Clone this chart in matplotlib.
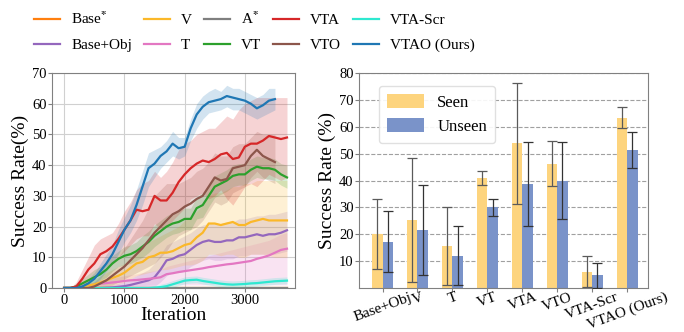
import numpy as np
import matplotlib.pyplot as plt
from matplotlib.lines import Line2D

plt.rcParams['font.family'] = ['Liberation Serif', 'DejaVu Serif']
plt.rcParams['mathtext.fontset'] = 'stix'

# ---- left panel: learning curves, sampled every 100 iterations ----
step = 100

vtao = [0, 0, 0, 0.5, 1.5, 3, 5.5, 8, 11, 15, 19, 22, 27, 33, 39, 40.5, 43, 44.5, 47, 45.5,
        46, 52, 56.5, 59, 60.5, 61, 61.5, 62.5, 62, 61.5, 61, 60, 58.5, 59.5, 61, 61.5]
vtao_hi = [0, 0, 0, 1.5, 3, 5, 8, 11, 14, 19, 23, 27, 32, 38, 44, 45, 46, 48, 51, 49,
           49, 55, 60, 62.5, 64, 65, 64, 66, 65, 65, 64, 63, 62, 63, 65, 65]
vtao_lo = [0, 0, 0, 0, 0.5, 1.5, 3, 5.5, 8, 11, 15, 18, 22, 27, 33, 36, 39, 41, 43, 42,
           43, 48, 52, 55, 57, 57.5, 58, 59, 58, 58, 57, 56, 55, 56, 57, 58]

vta = [0, 0, 0.5, 3, 6, 8, 11, 12, 13.5, 16, 19, 22, 25.5, 25, 25.5, 30, 28.5, 28.5, 31, 34.5,
       37, 39, 40.5, 41.5, 41, 42, 43.5, 44, 42, 42.5, 46, 47, 47, 48, 49.5, 49, 48.5, 49]
vta_hi = [0, 0, 2, 6, 10, 14, 16, 17, 18, 21, 25, 28, 32, 34, 35, 38, 36, 38, 41, 45,
          47, 48, 50, 51, 52, 52, 54, 56, 55, 58, 60, 61, 62, 62, 62, 62, 62, 62]
vta_lo = [0, 0, 0, 0.5, 2, 3, 5, 7, 8, 10, 12, 14, 16, 17, 17, 21, 19, 20, 22, 24,
          26, 29, 30, 31, 29, 30, 32, 29, 27, 30, 33, 34, 33, 35, 37, 36, 35, 36]

vto = [0, 0, 0, 0, 0, 0.5, 1.5, 2.5, 4, 5.5, 7, 9, 11, 13, 15.5, 18, 20, 22, 24, 25,
       26.5, 27.5, 29, 30, 33, 36, 35, 35.5, 39, 39.5, 40, 43, 45, 43, 42, 41]
vto_hi = [0, 0, 0, 0, 0.5, 2, 4, 6, 8, 10, 13, 16, 19, 22, 26, 30, 32, 34, 34, 34,
          35, 36, 38, 39, 41, 44, 43, 43, 46, 47, 47, 49, 51, 50, 50, 50]
vto_lo = [0, 0, 0, 0, 0, 0, 0, 0.5, 1, 2, 3, 4, 5, 6, 7, 8, 10, 12, 15, 17,
          18, 19, 20, 22, 25, 28, 27, 28, 31, 32, 33, 36, 38, 36, 35, 34]

vt = [0, 0, 0.5, 1.5, 2.5, 3.5, 4.5, 6, 8, 9.5, 10.5, 11, 12, 13.5, 15, 17, 18.5, 20, 21, 21.5,
      22.5, 22.5, 26, 27, 30, 33, 34, 35, 36.5, 37, 37, 38.5, 39.5, 39, 39, 38.5, 37, 36]
vt_hi = [0, 0, 1.5, 3, 4.5, 6, 7, 8.5, 10.5, 12, 13.5, 14, 15, 17, 18.5, 20.5, 22, 23.5, 24.5, 25,
         26, 26, 29.5, 31, 33.5, 36.5, 37.5, 38.5, 40, 40.5, 40.5, 42, 43, 42.5, 42.5, 42, 40.5, 40]
vt_lo = [0, 0, 0, 0.5, 1, 1.5, 2.5, 3.5, 5.5, 7, 7.5, 8, 9, 10, 11.5, 13.5, 15, 16.5, 17.5, 18,
         19, 19, 22.5, 23, 26.5, 29.5, 30.5, 31.5, 33, 33.5, 33.5, 35, 36, 35.5, 35.5, 35, 33.5, 32.5]

v = [0, 0, 0, 0.3, 0.8, 1.2, 1.8, 2.5, 3.3, 4, 5, 6.5, 8, 8.5, 10, 10.5, 11.5, 11.5, 12, 13,
     14, 14.5, 16.5, 18, 21, 21, 20.5, 21, 21.5, 20.5, 20.5, 21.5, 22, 22.5, 22, 22, 22, 22]
v_hi = [0, 0, 0.5, 1, 2, 3, 4, 5, 6, 7, 8, 10, 12, 13, 15, 16, 17, 18, 19, 20,
        22, 23, 25, 27, 30, 31, 31, 32, 33, 33, 34, 34, 35, 35, 35, 35, 35, 35]
v_lo = [0, 0, 0, 0, 0, 0, 0, 0.3, 0.8, 1.3, 2, 3, 4, 4.5, 5, 5.5, 6, 6, 6.5, 7,
        7.5, 7.5, 8, 9, 11, 11, 10.5, 11, 11, 10, 10, 11, 11, 11, 10.5, 10, 10, 10]

base_obj = [0, 0, 0, 0, 0, 0, 0, 0.1, 0.2, 0.4, 0.6, 1, 1.5, 2, 2.5, 3.5, 6, 9, 9.5, 10.5,
            11, 12.5, 14, 15, 15.5, 15, 15, 15.5, 15.5, 16.5, 16.5, 17, 17.5, 17, 17.5, 17.5, 18, 18.8]
base_obj_hi = [0, 0, 0, 0, 0, 0, 0, 0.5, 1, 1.5, 2, 3, 4, 5, 6, 8, 11, 14, 15, 16,
               17, 18, 19.5, 20.5, 21, 21, 21, 21.5, 21.5, 22.5, 22.5, 23, 23.5, 23.5, 24, 24, 24.5, 25]
base_obj_lo = [0, 0, 0, 0, 0, 0, 0, 0, 0, 0, 0, 0, 0, 0, 0.2, 0.5, 2, 4, 5, 5,
               5.5, 7, 8, 9, 9.5, 9, 9, 9.5, 9.5, 10.5, 10.5, 11, 11, 11, 11, 11, 11.5, 12]

t = [0, 0, 0.2, 0.5, 0.8, 1.1, 1.4, 1.6, 1.8, 2, 2.3, 2.5, 2.6, 2.8, 3, 3.2, 3.5, 4.5, 4.8, 5.2,
     5.5, 5.8, 6.1, 6.4, 6.8, 7.1, 7.4, 7.7, 7.9, 8.2, 8.5, 8.8, 9.5, 10, 10.6, 11.5, 12.4, 12.8]
t_hi = [0, 0, 0.5, 1, 1.5, 2, 2.5, 3, 3.3, 3.6, 4, 4.3, 4.6, 5, 5.3, 5.6, 6, 7, 7.5, 8,
        8.5, 9, 9.5, 10, 10.5, 11, 11.5, 12, 12.5, 13, 13.5, 14, 14.5, 15, 15.5, 16.5, 17.5, 18]
t_lo = [0, 0, 0, 0, 0, 0.1, 0.2, 0.3, 0.4, 0.5, 0.6, 0.7, 0.8, 0.8, 0.9, 1, 1, 1, 1, 1,
        1, 1, 1, 1, 1, 1, 1, 1, 1, 1, 1, 1, 1, 1, 1, 1, 1, 1]

vta_scr = [0, 0, 0, 0, 0, 0, 0, 0, 0, 0, 0, 0, 0, 0, 0, 0.1, 0.3, 0.6, 1.2, 1.8,
           2.4, 2.6, 2.7, 2.3, 2, 1.7, 1.4, 1.2, 1.1, 1.2, 1.3, 1.5, 1.6, 1.8, 2, 2.2, 2.3, 2.4]
vta_scr_hi = [0, 0, 0, 0, 0, 0, 0, 0, 0, 0, 0, 0, 0, 0, 0.3, 0.8, 1.2, 1.7, 2.4, 3,
              3.6, 3.8, 3.9, 3.5, 3.2, 2.9, 2.6, 2.4, 2.3, 2.4, 2.5, 2.7, 2.8, 3, 3.2, 3.4, 3.5, 3.6]
vta_scr_lo = [0, 0, 0, 0, 0, 0, 0, 0, 0, 0, 0, 0, 0, 0, 0, 0, 0, 0, 0.2, 0.8,
              1.4, 1.6, 1.7, 1.3, 1, 0.7, 0.4, 0.2, 0.1, 0.2, 0.3, 0.5, 0.6, 0.8, 1, 1.2, 1.3, 1.4]

base_star = [0, 0]
a_star = [0, 0]
flat_iters = [0, 3700]

# legend entries in column order (2 rows x 5 columns)
curve_names = ['Base$^{\\mathbf{*}}$', 'Base+Obj', 'V', 'T', 'A$^{\\mathbf{*}}$', 'VT',
               'VTA', 'VTO', 'VTA-Scr', 'VTAO (Ours)']
curve_colors = ['#ff7f0e', '#9467bd', '#fbb829', '#e377c2', '#7f7f7f', '#2ca02c',
                '#d62728', '#8c564b', '#2ee8d0', '#1f77b4']

# ---- right panel: bar chart ----
categories = ['Base+Obj', 'V', 'T', 'VT', 'VTA', 'VTO', 'VTA-Scr', 'VTAO (Ours)']
seen = [20.0, 25.3, 15.8, 41.0, 53.8, 46.3, 6.1, 63.4]
seen_err = [13.0, 23.2, 14.5, 2.6, 22.5, 8.5, 5.8, 4.0]
unseen = [17.3, 21.7, 12.0, 30.0, 38.7, 40.0, 4.7, 51.4]
unseen_err = [11.4, 16.8, 11.0, 3.3, 15.6, 14.3, 4.6, 6.7]

fig = plt.figure(figsize=(6.84, 3.32), dpi=100)

# left plot
ax1 = fig.add_axes([0.076, 0.1325, 0.355, 0.6476])
series = [
    (base_obj, base_obj_lo, base_obj_hi, '#9467bd'),
    (t, t_lo, t_hi, '#e377c2'),
    (v, v_lo, v_hi, '#fbb829'),
    (vta_scr, vta_scr_lo, vta_scr_hi, '#2ee8d0'),
    (vt, vt_lo, vt_hi, '#2ca02c'),
    (vto, vto_lo, vto_hi, '#8c564b'),
    (vta, vta_lo, vta_hi, '#d62728'),
    (vtao, vtao_lo, vtao_hi, '#1f77b4'),
]
ax1.plot(flat_iters, base_star, color='#ff7f0e', lw=1.6, zorder=1)
ax1.plot(flat_iters, a_star, color='#7f7f7f', lw=1.6, zorder=1)
for mean, lo, hi, col in series:
    x = np.arange(len(mean)) * step
    ax1.fill_between(x, lo, hi, color=col, alpha=0.2, lw=0)
for mean, lo, hi, col in series:
    x = np.arange(len(mean)) * step
    ax1.plot(x, mean, color=col, lw=1.6)

ax1.set_xlim(-204, 3830)
ax1.set_ylim(0, 70)
ax1.set_xticks([0, 1000, 2000, 3000])
ax1.set_yticks(range(0, 71, 10))
ax1.grid(True, color='#d0d0d0', lw=0.8)
ax1.set_axisbelow(True)
ax1.tick_params(labelsize=10.5, length=3, color='#808080', pad=1)
ax1.set_xlabel('Iteration', fontsize=14, labelpad=0)
ax1.set_ylabel('Success Rate(%)', fontsize=14, labelpad=2)
for sp in ax1.spines.values():
    sp.set_color('#808080')

# right plot
ax2 = fig.add_axes([0.525, 0.1325, 0.4225, 0.6476])
pos = np.arange(len(categories))
w = 0.3
ax2.bar(pos - w / 2, seen, w, color='#fdd47e', label='Seen', zorder=2)
ax2.bar(pos + w / 2, unseen, w, color='#7a93c9', label='Unseen', zorder=2)
ax2.errorbar(pos - w / 2, seen, yerr=seen_err, fmt='none', ecolor='#5a5a5a',
             elinewidth=0.9, capsize=3.5, capthick=0.9, zorder=3)
ax2.errorbar(pos + w / 2, unseen, yerr=unseen_err, fmt='none', ecolor='#333333',
             elinewidth=0.9, capsize=3.5, capthick=0.9, zorder=3)
ax2.set_xlim(-0.67, 7.6)
ax2.set_ylim(0, 80)
ax2.set_yticks(range(10, 81, 10))
ax2.set_xticks(pos)
ax2.set_xticklabels(categories, rotation=20, ha='center', fontsize=11)
ax2.tick_params(axis='y', labelsize=10.5, length=3, color='#808080', pad=1)
ax2.tick_params(axis='x', length=3, color='#808080', pad=-1)
ax2.yaxis.grid(True, ls='--', color='#a0a0a0', lw=0.8)
ax2.set_axisbelow(True)
ax2.set_ylabel('Success Rate (%)', fontsize=14, labelpad=2)
for sp in ax2.spines.values():
    sp.set_color('#808080')
ax2.legend(loc='upper left', fontsize=12, handlelength=2.2, handleheight=0.9,
           borderpad=0.5, labelspacing=0.45, bbox_to_anchor=(0.04, 0.98),
           framealpha=0.9, edgecolor='#dddddd')

# top legend
handles = [Line2D([0], [0], color=c, lw=1.6) for c in curve_colors]
fig.legend(handles, curve_names, loc='upper center', ncol=5, frameon=False,
           fontsize=11, bbox_to_anchor=(0.372, 1.01), handlelength=1.7,
           columnspacing=0.8, labelspacing=0.75, handletextpad=0.7)

plt.savefig('out.png', dpi=100)
